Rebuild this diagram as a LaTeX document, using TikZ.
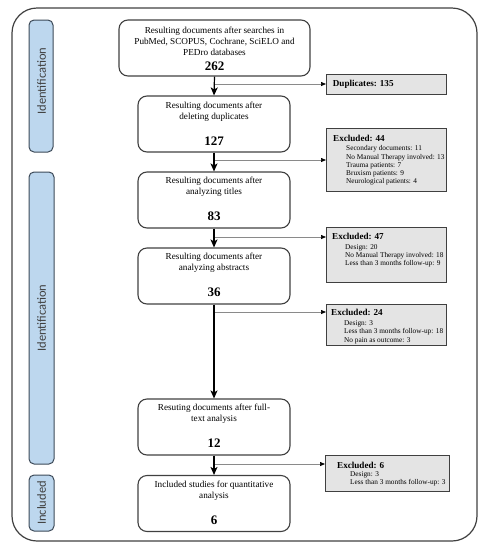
\documentclass[tikz,border=0pt]{standalone}
\usepackage{fontspec}
\setmainfont{Liberation Serif}
\newfontfamily\labfont{Carlito}
\usetikzlibrary{arrows.meta,calc}
\definecolor{framegray}{HTML}{404040}
\definecolor{labblue}{HTML}{BDD7EE}
\definecolor{labedge}{HTML}{3C4A58}
\definecolor{exfill}{HTML}{E4E4E4}
\definecolor{branchgray}{HTML}{8A8A8A}
\tikzset{
  outerframe/.style={draw=framegray,line width=1.2pt,rounded corners=25pt,inner sep=0pt},
  sidelab/.style={draw=labedge,fill=labblue,line width=1pt,rounded corners=5pt,inner sep=0pt},
  sidetext/.style={rotate=90,font=\labfont\fontsize{12.5}{14}\selectfont,text=framegray,inner sep=0pt},
  mainbox/.style={draw=framegray,line width=1.1pt,rounded corners=9pt,inner sep=0pt,minimum height=56pt},
  maintext/.style={align=center,font=\fontsize{9.2}{10.8}\selectfont,inner sep=0pt},
  bignum/.style={font=\fontsize{13}{15}\selectfont\bfseries,inner sep=0pt},
  exbox/.style={draw=framegray,fill=exfill,line width=1.1pt,inner sep=0pt,minimum width=120pt,anchor=north west},
  extitle/.style={font=\fontsize{9.1}{11}\selectfont\bfseries,inner sep=0pt,anchor=west},
  exitems/.style={align=left,font=\fontsize{7.3}{8.3}\selectfont,inner sep=0pt,anchor=north west},
  mainarrow/.style={line width=1.2pt,-{Stealth[length=8pt,width=7pt,inset=2pt]}},
  brancharrow/.style={draw=branchgray,line width=0.7pt,-{Triangle[length=5pt,width=4pt,color=black]}}
}
\begin{document}
\begin{tikzpicture}[x=1pt,y=-1pt]
\useasboundingbox (0,0) rectangle (489,550);
\node[outerframe,minimum width=465pt,minimum height=533pt] (frame) at (244.5,274.5) {};

% side labels
\node[sidelab,minimum width=24pt,minimum height=132pt] (lab1) at (41,86) {};
\node[sidetext] (lab1t) at (41.7,81) {Identification};
\node[sidelab,minimum width=25pt,minimum height=292pt] (lab2) at (41.5,318) {};
\node[sidetext] (lab2t) at (41.7,318) {Identification};
\node[sidelab,minimum width=25pt,minimum height=56pt] (lab3) at (41.5,503) {};
\node[sidetext] (lab3t) at (41.7,503) {Included};

% main boxes
\node[mainbox,minimum width=191pt] (b1) at (214.5,48) {};
\node[maintext] (b1t) at (214.5,41.5) {Resulting documents after searches in\\PubMed, SCOPUS, Cochrane, SciELO and\\PEDro databases};
\node[bignum] (b1n) at (214.5,66.3) {262};

\node[mainbox,minimum width=152pt] (b2) at (214,124) {};
\node[maintext] (b2t) at (214,111.5) {Resulting documents after\\deleting duplicates};
\node[bignum] (b2n) at (214,141) {127};

\node[mainbox,minimum width=152pt] (b3) at (214,200) {};
\node[maintext] (b3t) at (214,186.5) {Resulting documents after\\analyzing titles};
\node[bignum] (b3n) at (214,216) {83};

\node[mainbox,minimum width=152pt] (b4) at (214,276) {};
\node[maintext] (b4t) at (214,262.5) {Resulting documents after\\analyzing abstracts};
\node[bignum] (b4n) at (214,292) {36};

\node[mainbox,minimum width=152pt] (b5) at (214,427) {};
\node[maintext] (b5t) at (214,414) {Resuting documents after full-\\text analysis};
\node[bignum] (b5n) at (214,443) {12};

\node[mainbox,minimum width=152pt] (b6) at (214,503.5) {};
\node[maintext] (b6t) at (214,490.5) {Included studies for quantitative\\analysis};
\node[bignum] (b6n) at (214,520) {6};

% exclusion boxes
\node[exbox,minimum height=20pt] (e1) at (326,74) {};
\node[extitle] (e1t) at (332.7,84) {Duplicates: 135};

\node[exbox,minimum height=63pt] (e2) at (326,128) {};
\node[extitle] (e2t) at (333,138.3) {Excluded: 44};
\node[exitems] (e2i) at (346,145.5) {Secondary documents: 11\\No Manual Therapy involved: 13\\Trauma patients: 7\\Bruxism patients: 9\\Neurological patients: 4};

\node[exbox,minimum height=55pt] (e3) at (326,227) {};
\node[extitle] (e3t) at (332,236.7) {Excluded: 47};
\node[exitems] (e3i) at (345,244) {Design: 20\\No Manual Therapy involved: 18\\Less than 3 months follow-up: 9};

\node[exbox,minimum height=41pt] (e4) at (326,304) {};
\node[extitle] (e4t) at (331,312.3) {Excluded: 24};
\node[exitems] (e4i) at (344,320.5) {Design: 3\\Less than 3 months follow-up: 18\\No pain as outcome: 3};

\node[exbox,minimum width=124pt,minimum height=36pt] (e5) at (325,455) {};
\node[extitle] (e5t) at (337,465) {Excluded: 6};
\node[exitems] (e5i) at (350,471.2) {Design: 3\\Less than 3 months follow-up: 3};

% branch points
\coordinate (p1) at (214.5,84);
\coordinate (p2) at (214,160);
\coordinate (p3) at (214,237);
\coordinate (p4) at (214,312);
\coordinate (p5) at (214,464);

% branch arrows
\draw[brancharrow] (p1) -- (p1 -| e1.west);
\draw[brancharrow] (p2) -- (p2 -| e2.west);
\draw[brancharrow] (p3) -- (p3 -| e3.west);
\draw[brancharrow] (p4) -- (p4 -| e4.west);
\draw[brancharrow] (p5) -- (p5 -| e5.west);

% main arrows
\draw[mainarrow] (b1.south) -- (b2.north);
\draw[mainarrow] (b2.south) -- (b3.north);
\draw[mainarrow] (b3.south) -- (b4.north);
\draw[mainarrow] (b4.south) -- (b5.north);
\draw[mainarrow] (b5.south) -- (b6.north);
\end{tikzpicture}
\end{document}
